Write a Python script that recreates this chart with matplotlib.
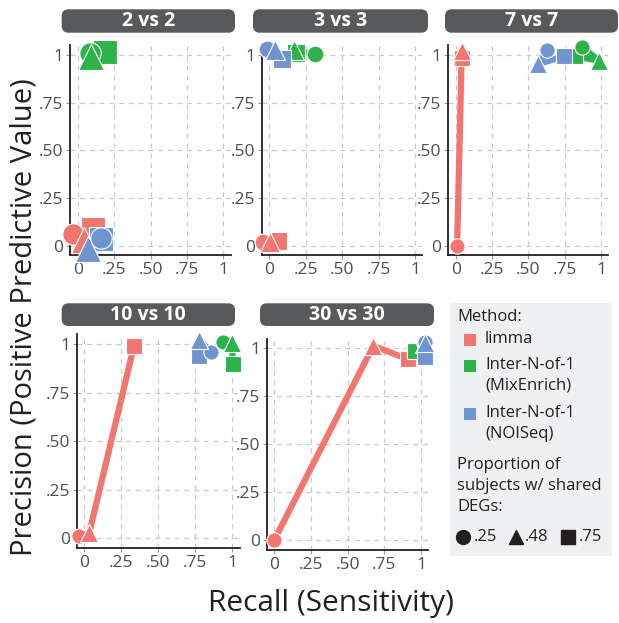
import matplotlib
matplotlib.use("Agg")
import matplotlib.pyplot as plt
from matplotlib.patches import FancyBboxPatch, Rectangle
from matplotlib.lines import Line2D

# ---------------- data ----------------
panels = ["2 vs 2", "3 vs 3", "7 vs 7", "10 vs 10", "30 vs 30"]
methods = ["limma", "Inter-N-of-1\n(MixEnrich)", "Inter-N-of-1\n(NOISeq)"]
proportions = [".25", ".48", ".75"]          # circle, triangle, square
tick_values = [0, 0.25, 0.5, 0.75, 1]
tick_labels = ["0", ".25", ".50", ".75", "1"]

# each row = one panel, values ordered by proportion (.25, .48, .75)
limma_recall = [[-0.035, 0.04, 0.105], [-0.045, 0.005, 0.062], [0.01, 0.042, 0.042],
                [-0.038, 0.033, 0.336], [0.0, 0.675, 0.91]]
limma_precision = [[0.06, 0.03, 0.085], [0.018, 0.02, 0.027], [0.0, 1.02, 0.985],
                   [0.01, 0.026, 0.991], [0.0, 1.013, 0.943]]
mixenrich_recall = [[0.085, 0.09, 0.185], [0.312, 0.168, 0.183], [0.87, 0.988, 0.82],
                    [0.936, 1.0, 1.003], [1.02, 1.02, 0.96]]
mixenrich_precision = [[1.01, 0.988, 1.017], [1.004, 1.025, 1.01], [1.04, 0.97, 0.994],
                       [1.012, 1.007, 0.896], [1.03, 1.02, 0.988]]
noiseq_recall = [[0.16, 0.07, 0.16], [-0.016, 0.04, 0.089], [0.63, 0.566, 0.745],
                 [0.858, 0.778, 0.775], [1.03, 1.027, 1.027]]
noiseq_precision = [[0.04, -0.015, 0.037], [1.03, 1.025, 0.978], [1.027, 0.952, 0.994],
                    [0.959, 1.019, 0.94], [1.032, 1.03, 0.952]]

# ---------------- style ----------------
colors = ["#F2756F", "#2EB34B", "#7095CE"]
shapes = ["o", "^", "s"]
shape_sizes = {"o": 11.0, "^": 13.0, "s": 12.0}
panel_marker_scale = [1.4, 1.1, 1.0, 1.0, 1.0]
draw_order = [2, 0, 1]   # square, circle, triangle
FONT = "Open Sans"
plt.rcParams["font.family"] = [FONT, "DejaVu Sans"]
plt.rcParams["lines.scale_dashes"] = False

W, H = 619, 623
fig = plt.figure(figsize=(W / 100, H / 100), dpi=100)


def fbox(l, t, r, b):
    return [l / W, 1 - b / H, (r - l) / W, (b - t) / H]


# axes boxes (left, top, right, bottom) in pixels
axes_px = [(70.4, 45.5, 230.6, 255.2), (262.0, 45.5, 422.3, 255.2), (448.4, 45.5, 608.3, 255.2),
           (76.9, 334.3, 239.7, 548.0), (267.0, 338.7, 428.3, 549.6)]
strips_px = [(61.7, 9.3, 235, 32.7), (253, 9.3, 428, 32.7), (445, 9.3, 618, 32.7),
             (61.7, 303.3, 235, 326), (260, 303.3, 434, 326)]

recalls = [limma_recall, mixenrich_recall, noiseq_recall]
precisions = [limma_precision, mixenrich_precision, noiseq_precision]

for p, name in enumerate(panels):
    ax = fig.add_axes(fbox(*axes_px[p]))
    ax.set_xlim(-0.05, 1.05)
    ax.set_ylim(-0.05, 1.05)
    ax.set_xticks(tick_values)
    ax.set_xticklabels(tick_labels)
    ax.set_yticks(tick_values)
    ax.set_yticklabels(tick_labels)
    ax.grid(True, color="#C9C9C9", linewidth=0.9, linestyle=(0, (3.5, 3.5)))
    ax.set_axisbelow(True)
    for s in ["top", "right"]:
        ax.spines[s].set_visible(False)
    for s in ["left", "bottom"]:
        ax.spines[s].set_color("#231F20")
        ax.spines[s].set_linewidth(1.3)
    ax.tick_params(axis="both", length=3, width=0.8, color="#9A9A9A",
                   labelsize=12.5, labelcolor="#4D4D4D", pad=2.0)
    ax.set_facecolor("white")

    # lines first
    for m in range(len(methods)):
        ax.plot(recalls[m][p], precisions[m][p], color=colors[m], linewidth=4.5,
                solid_capstyle="butt", zorder=3, clip_on=False)
    # points
    for m in range(len(methods)):
        for k in draw_order:
            mk = shapes[k]
            ax.plot(recalls[m][p][k], precisions[m][p][k], marker=mk, linestyle="none",
                    markersize=shape_sizes[mk] * panel_marker_scale[p],
                    markerfacecolor=colors[m], markeredgecolor="white",
                    markeredgewidth=0.8, zorder=4 + m, clip_on=False)

    # strip
    l, t, r, b = strips_px[p]
    fig.patches.append(FancyBboxPatch((l / W, 1 - b / H), (r - l) / W, (b - t) / H,
                                      boxstyle="round,pad=0,rounding_size=0.011",
                                      transform=fig.transFigure, facecolor="#58595B",
                                      edgecolor="none", zorder=1))
    fig.text((l + r) / 2 / W, 1 - ((t + b) / 2 + 0.5) / H, name, ha="center", va="center",
             color="white", fontsize=14, fontweight="bold")

# axis titles
fig.text(331 / W, 1 - 604 / H, "Recall (Sensitivity)", ha="center", va="center",
         fontsize=21.5, color="#231F20")
fig.text(24 / W, 1 - 317 / H, "Precision (Positive Predictive Value)", ha="center",
         va="center", rotation=90, fontsize=21, color="#231F20")

# legend
fig.patches.append(Rectangle((450 / W, 1 - 556 / H), (612 - 450) / W, (556 - 303) / H,
                             transform=fig.transFigure, facecolor="#EFF0F2",
                             edgecolor="none", zorder=0))
LFS = 12
fig.text(457 / W, 1 - 317 / H, "Method:", ha="left", va="center", fontsize=LFS, color="#231F20")
entry_y = [340, 366, 414]
for m, name in enumerate(methods):
    y = entry_y[m]
    fig.patches.append(Rectangle((464 / W, 1 - (y + 6) / H), 12 / W, 12 / H,
                                 transform=fig.transFigure, facecolor=colors[m],
                                 edgecolor="none", zorder=2))
    fig.text(485 / W, 1 - (y - 9) / H, name, ha="left", va="top", fontsize=LFS,
             color="#231F20", linespacing=1.4)
fig.text(457 / W, 1 - 457 / H, "Proportion of\nsubjects w/ shared\nDEGs:", ha="left",
         va="top", fontsize=LFS, color="#231F20", linespacing=1.4)
shape_x = [463, 516, 568]
label_x = [474, 525, 579]
for k in range(3):
    fig.add_artist(Line2D([shape_x[k] / W], [1 - 537 / H], marker=shapes[k], color="#231F20",
                          markersize=10, linestyle="none", transform=fig.transFigure))
    fig.text(label_x[k] / W, 1 - 537 / H, proportions[k], ha="left", va="center",
             fontsize=LFS, color="#231F20")

fig.savefig("out.png", dpi=100, facecolor="white")
